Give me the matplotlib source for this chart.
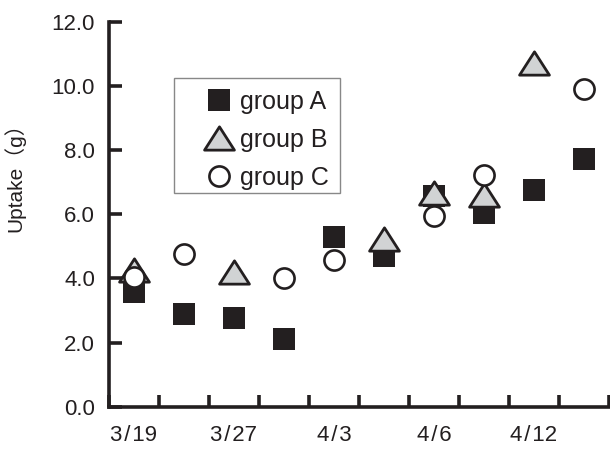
import numpy as np
import matplotlib
matplotlib.use("Agg")
import matplotlib.pyplot as plt
from matplotlib.path import Path
from matplotlib.patches import Rectangle

nan = np.nan
dates = ["3/19", "", "3/27", "", "4/3", "", "4/6", "", "4/12", ""]
group_a = [3.57, 2.88, 2.78, 2.10, 5.29, 4.70, 6.57, 6.04, 6.75, 7.72]
group_b = [4.27, nan, 4.21, nan, nan, 5.22, 6.67, 6.61, 10.71, nan]
group_c = [4.04, 4.77, nan, 4.00, 4.56, nan, 5.94, 7.22, nan, 9.89]
y_ticks = [0, 2, 4, 6, 8, 10, 12]

fam = ["Liberation Sans", "Noto Sans CJK JP"]
plt.rcParams["font.family"] = fam

fig = plt.figure(figsize=(6.10, 4.49), dpi=100)
ax = fig.add_axes([109 / 610, 42.3 / 449, 500 / 610, 385 / 449])

x = np.arange(len(group_a))
tri = Path([(-1, -0.78), (1, -0.78), (0, 0.78), (-1, -0.78)], closed=True)
dark = "#231f20"

ax.plot(x, group_a, ls="none", marker="s", ms=16.5, mfc=dark, mec=dark,
        mew=0, label="group A", clip_on=False)
ax.plot(x, group_b, ls="none", marker=tri, ms=21.5, mfc="#d1d3d4", mec=dark,
        mew=2.0, label="group B", clip_on=False)
ax.plot(x, group_c, ls="none", marker="o", ms=14.5, mfc="white", mec=dark,
        mew=1.9, label="group C", clip_on=False)

ax.set_xlim(-0.5, 9.5)
ax.set_ylim(0, 12)
for s in ["top", "right"]:
    ax.spines[s].set_visible(False)
for s in ["left", "bottom"]:
    ax.spines[s].set_linewidth(2.6)
    ax.spines[s].set_color(dark)

ax.set_yticks(y_ticks)
ax.set_yticklabels(["%.1f" % v for v in y_ticks])
ax.set_xticks(np.arange(-0.5, 10, 1))
ax.set_xticklabels([])
ax.set_xticks(x, minor=True)
ax.set_xticklabels([d.replace("/", "\u200a/\u200a") for d in dates], minor=True)
ax.tick_params(axis="both", which="major", direction="in", length=9,
               width=2.6, color=dark, labelsize=16, labelcolor=dark, pad=10)
ax.tick_params(axis="x", which="minor", length=0, labelsize=16,
               labelcolor=dark, pad=13)

ax.set_ylabel("Uptake（g）", fontsize=15, color=dark)
ax.yaxis.set_label_coords(-0.168, 0.61)

# legend frame drawn separately so the inner padding can differ per side
ax.add_patch(Rectangle((0.13, 0.555), 0.332, 0.299, transform=ax.transAxes,
                       fill=True, fc="white", ec="#888888", lw=1.0, zorder=4))
leg = ax.legend(loc="upper left", bbox_to_anchor=(0.18, 0.822),
                borderaxespad=0, frameon=False, fontsize=18,
                handlelength=1.6, handletextpad=0.05,
                labelspacing=0.55, borderpad=0)
leg.set_zorder(5)
for t in leg.get_texts():
    t.set_color(dark)

fig.savefig("out.png", dpi=100)
